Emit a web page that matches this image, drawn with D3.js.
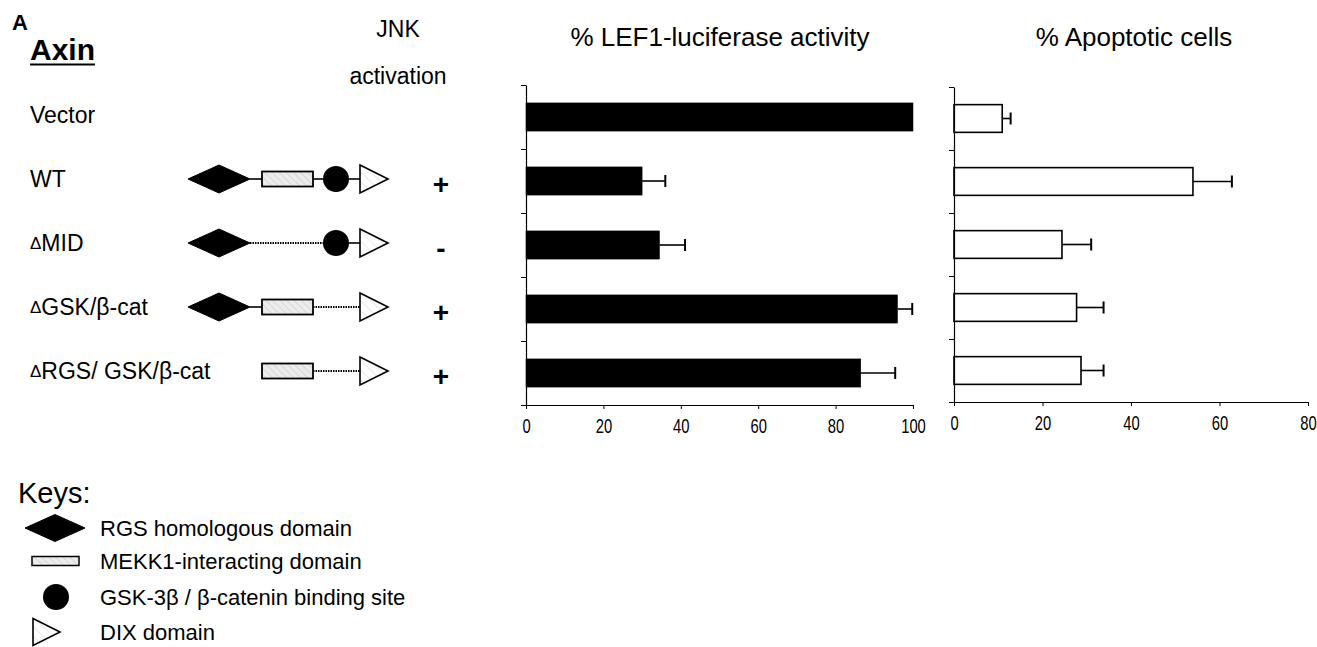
<!DOCTYPE html>
<html>
<head>
<meta charset="utf-8">
<script src="https://cdn.jsdelivr.net/npm/d3@7"></script>
<style>
  body { margin: 0; background: #fff; }
  text { font-family: "Liberation Sans", Arial, Helvetica, sans-serif; fill: #000; }
</style>
</head>
<body>
<svg id="fig" width="1317" height="647"></svg>
<script>
// Axin constructs (rows, top to bottom)
const categories = ["Vector", "WT", "MID", "GSK/β-cat", "RGS/ GSK/β-cat"];
const deletionMark = [false, false, true, true, true];
// JNK activation result per construct
const jnk = ["", "+", "-", "+", "+"];
// Domains kept in each construct: RGS, MEKK1-interacting, GSK-3β/β-catenin, DIX
const domainsKept = [
  null,
  [1, 1, 1, 1],
  [1, 0, 1, 1],
  [1, 1, 0, 1],
  [0, 1, 0, 1]
];
// % LEF1-luciferase activity (mean, error)
const lefMean = [100, 30, 34.5, 96, 86.5];
const lefErr  = [0, 6, 6.6, 3.8, 8.9];
// % apoptotic cells (mean, error)
const apopMean = [10.9, 54, 24.4, 27.7, 28.7];
const apopErr  = [1.9, 8.8, 6.6, 6.1, 5.1];
// axis ticks
const lefTicks  = [0, 20, 40, 60, 80, 100];
const apopTicks = [0, 20, 40, 60, 80];
// legend
const keyLabels = ["RGS homologous domain", "MEKK1-interacting domain",
                   "GSK-3β / β-catenin binding site", "DIX domain"];

const svg = d3.select("#fig");
svg.append("rect").attr("width", 1317).attr("height", 647).attr("fill", "#fff");

// fill textures for the domain glyphs
const defs = svg.append("defs");
const hatch = defs.append("pattern").attr("id", "hatchGrey")
  .attr("patternUnits", "userSpaceOnUse").attr("width", 5).attr("height", 5)
  .attr("patternTransform", "rotate(-45)");
hatch.append("rect").attr("width", 5).attr("height", 5).attr("fill", "#ececec");
hatch.append("line").attr("x1", 0).attr("y1", 0).attr("x2", 0).attr("y2", 5)
  .attr("stroke", "#b8b8b8").attr("stroke-width", 0.8);
const hatchW = defs.append("pattern").attr("id", "hatchWhite")
  .attr("patternUnits", "userSpaceOnUse").attr("width", 7).attr("height", 7)
  .attr("patternTransform", "rotate(-45)");
hatchW.append("rect").attr("width", 7).attr("height", 7).attr("fill", "#fff");
hatchW.append("line").attr("x1", 0).attr("y1", 0).attr("x2", 0).attr("y2", 7)
  .attr("stroke", "#bdbdbd").attr("stroke-width", 0.7);

// ---------- bar charts ----------
function barChart(opts) {
  const { x, yTop, yBottom, means, errs, ticks, solid } = opts;
  const y = d3.scaleBand().domain(categories).range([yTop, yBottom])
    .paddingInner(0.56).paddingOuter(0.28);
  const rows = categories.map((c, i) => ({ c, m: means[i], e: errs[i] }));
  const g = svg.append("g");

  g.selectAll("rect.bar").data(rows).join("rect")
    .attr("class", "bar")
    .attr("x", x(0))
    .attr("y", d => y(d.c))
    .attr("width", d => x(d.m) - x(0))
    .attr("height", y.bandwidth())
    .attr("fill", solid ? "#000" : "#fff")
    .attr("stroke", "#000")
    .attr("stroke-width", solid ? 0.5 : 1.6);

  const eb = g.selectAll("g.err").data(rows.filter(d => d.e > 0)).join("g").attr("class", "err")
    .attr("stroke", "#000").attr("stroke-width", 1.6);
  eb.append("line")
    .attr("x1", d => x(d.m)).attr("x2", d => x(d.m + d.e))
    .attr("y1", d => y(d.c) + y.bandwidth() / 2).attr("y2", d => y(d.c) + y.bandwidth() / 2);
  eb.append("line")
    .attr("x1", d => x(d.m + d.e)).attr("x2", d => x(d.m + d.e))
    .attr("y1", d => y(d.c) + y.bandwidth() / 2 - 6).attr("y2", d => y(d.c) + y.bandwidth() / 2 + 6)
    .attr("stroke-width", 2);

  // category separators on the value axis
  const sep = d3.scaleLinear().domain([0, categories.length]).range([yTop, yBottom]);
  const ya = g.append("g").attr("transform", `translate(${x(0)},0)`)
    .call(d3.axisLeft(sep).tickValues(d3.range(categories.length + 1)).tickFormat("")
      .tickSize(5).tickSizeOuter(0));
  ya.select(".domain").attr("stroke-width", 1.2);
  ya.selectAll(".tick line").attr("stroke-width", 1);

  const xa = g.append("g").attr("transform", `translate(0,${yBottom})`)
    .call(d3.axisBottom(x).tickValues(ticks).tickSize(4).tickSizeOuter(0).tickPadding(10));
  xa.select(".domain").attr("stroke-width", 1.2);
  // tall, narrow numerals
  xa.selectAll("text").attr("font-size", 20).attr("fill", "#000")
    .attr("transform", "scale(0.74,1)");
  return y;
}

const xL = d3.scaleLinear().domain([0, 100]).range([526, 913]);
const yL = barChart({ x: xL, yTop: 85, yBottom: 405, means: lefMean, errs: lefErr, ticks: lefTicks, solid: true });
const xA = d3.scaleLinear().domain([0, 80]).range([954, 1308]);
barChart({ x: xA, yTop: 87, yBottom: 402, means: apopMean, errs: apopErr, ticks: apopTicks, solid: false });

// titles
svg.append("text").attr("x", 720).attr("y", 46).attr("text-anchor", "middle")
  .attr("font-size", 26).text("% LEF1-luciferase activity");
svg.append("text").attr("x", 1134).attr("y", 46).attr("text-anchor", "middle")
  .attr("font-size", 26).text("% Apoptotic cells");
svg.append("text").attr("x", 398).attr("y", 37).attr("text-anchor", "middle")
  .attr("font-size", 23).text("JNK");
svg.append("text").attr("x", 398).attr("y", 84).attr("text-anchor", "middle")
  .attr("font-size", 23).text("activation");

// panel letter and heading
svg.append("text").attr("x", 12).attr("y", 30).attr("font-size", 22)
  .attr("font-weight", "bold").text("A");
const axin = svg.append("text").attr("x", 30).attr("y", 60).attr("font-size", 30)
  .attr("font-weight", "bold").text("Axin");
const aw = axin.node().getComputedTextLength();
svg.append("line").attr("x1", 30).attr("x2", 30 + aw).attr("y1", 64.5).attr("y2", 64.5)
  .attr("stroke", "#000").attr("stroke-width", 2.2);

// construct names
const rowC = c => yL(c) + yL.bandwidth() / 2;
categories.forEach((c, i) => {
  const t = svg.append("text").attr("x", 30).attr("y", rowC(c) + 6).attr("font-size", 23);
  if (deletionMark[i]) t.append("tspan").attr("font-size", 17).attr("dy", -2).text("Δ");
  t.append("tspan").attr("dy", deletionMark[i] ? 2 : 0).text(c);
});

// JNK signs
categories.forEach((c, i) => {
  if (!jnk[i]) return;
  svg.append("text").attr("x", 441).attr("y", rowC(c) + 13).attr("text-anchor", "middle")
    .attr("font-size", 28).attr("font-weight", "bold").text(jnk[i]);
});

// ---------- domain glyphs ----------
const glyph = {
  diamond: (g, x0, x1, cy, h) => g.append("path")
    .attr("d", `M${x0},${cy}L${(x0 + x1) / 2},${cy - h / 2}L${x1},${cy}L${(x0 + x1) / 2},${cy + h / 2}Z`)
    .attr("fill", "#000").attr("stroke", "#000"),
  box: (g, x0, x1, cy, h) => g.append("rect")
    .attr("x", x0).attr("y", cy - h / 2).attr("width", x1 - x0).attr("height", h)
    .attr("fill", "url(#hatchGrey)").attr("stroke", "#000").attr("stroke-width", 1.8),
  dot: (g, x0, x1, cy) => g.append("circle")
    .attr("cx", (x0 + x1) / 2).attr("cy", cy).attr("r", (x1 - x0) / 2).attr("fill", "#000"),
  arrow: (g, x0, x1, cy, h) => g.append("path")
    .attr("d", `M${x0},${cy - h / 2}L${x1},${cy}L${x0},${cy + h / 2}Z`)
    .attr("fill", "url(#hatchWhite)").attr("stroke", "#000").attr("stroke-width", 1.6)
    .attr("stroke-linejoin", "miter")
};
const glyphOrder = ["diamond", "box", "dot", "arrow"];
const slots = [[188, 250, 28], [262, 313, 15], [323, 349, 26], [360, 388, 28]];

categories.forEach((c, i) => {
  const kept = domainsKept[i];
  if (!kept) return;
  const cy = rowC(c) - 2;
  const g = svg.append("g");
  const present = kept.map((k, j) => k ? j : -1).filter(j => j >= 0);
  // connectors: solid between neighbours, dotted across a deletion
  for (let k = 0; k < present.length - 1; k++) {
    const a = present[k], b = present[k + 1];
    g.append("line").attr("x1", slots[a][1]).attr("x2", slots[b][0])
      .attr("y1", cy).attr("y2", cy).attr("stroke", "#000")
      .attr("stroke-width", b - a > 1 ? 1.8 : 1.6)
      .attr("stroke-dasharray", b - a > 1 ? "1.5,1" : null);
  }
  present.forEach(j => glyph[glyphOrder[j]](g, slots[j][0], slots[j][1], cy, slots[j][2]));
});

// ---------- key ----------
svg.append("text").attr("x", 18).attr("y", 503).attr("font-size", 29).text("Keys:");
const keyRows = [528, 561, 597, 632];
const keyG = svg.append("g");
glyph.diamond(keyG, 25, 85, keyRows[0], 27);
glyph.box(keyG, 32, 79, keyRows[1], 9).attr("stroke-width", 1.5);
glyph.dot(keyG, 43, 69, keyRows[2]);
glyph.arrow(keyG, 33, 60, keyRows[3], 27);
keyLabels.forEach((t, i) => {
  svg.append("text").attr("x", 100).attr("y", keyRows[i] + 8).attr("font-size", 22).text(t);
});
</script>
</body>
</html>
